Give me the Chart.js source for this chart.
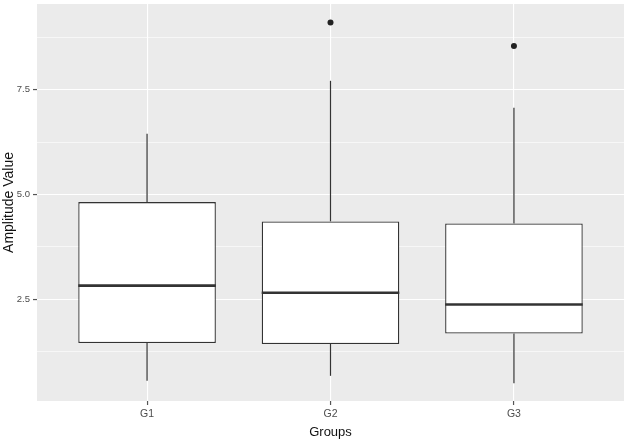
<!DOCTYPE html>
<html>
<head>
<meta charset="utf-8">
<script src="https://cdn.jsdelivr.net/npm/chart.js@4.4.1/dist/chart.umd.min.js"></script>
<style>
  html, body { margin: 0; padding: 0; background: #fff; }
  #wrap { width: 628px; height: 444px; }
</style>
</head>
<body>
<div id="wrap"><canvas id="chart"></canvas></div>
<script>
// Box plot values
const groups = ['G1', 'G2', 'G3'];
const lowerWhisker = [0.56, 0.68, 0.50];
const q1 = [1.46, 1.44, 1.69];
const median = [2.83, 2.66, 2.38];
const q3 = [4.82, 4.36, 4.31];
const upperWhisker = [6.45, 7.71, 7.07];
const outlierGroup = ['G2', 'G3'];
const outlierValue = [9.10, 8.54];

const yTicks = [1.25, 2.5, 3.75, 5.0, 6.25, 7.5, 8.75];
const yLabelled = [2.5, 5.0, 7.5];

const boxWidth = 0.75;
const lineColor = '#333333';

// grey panel behind the grid, like ggplot
const panelBg = {
    id: 'panelBg',
    beforeDraw(chart) {
        const { ctx, chartArea: a } = chart;
        ctx.save();
        ctx.fillStyle = '#EBEBEB';
        ctx.fillRect(a.left, a.top, a.right - a.left, a.bottom - a.top);
        ctx.restore();
    }
};

// one straight segment as a line dataset
function segment(x1, y1, x2, y2, width, order) {
    return {
        type: 'line',
        data: [{ x: x1, y: y1 }, { x: x2, y: y2 }],
        borderColor: lineColor,
        borderWidth: width,
        pointRadius: 0,
        fill: false,
        order: order
    };
}

const datasets = [];

// boxes
datasets.push({
    type: 'bar',
    data: groups.map((g, i) => ({ x: i + 1, y: [q1[i], q3[i]] })),
    backgroundColor: '#FFFFFF',
    borderColor: lineColor,
    borderWidth: 1.3,
    borderSkipped: false,
    categoryPercentage: 1,
    barPercentage: boxWidth,
    order: 1
});

groups.forEach((g, i) => {
    const x = i + 1;
    // whiskers
    datasets.push(segment(x, lowerWhisker[i], x, q1[i], 1.2, 2));
    datasets.push(segment(x, q3[i], x, upperWhisker[i], 1.2, 2));
    // median
    datasets.push(segment(x - boxWidth / 2, median[i], x + boxWidth / 2, median[i], 2.7, 0));
});

// outliers
datasets.push({
    type: 'scatter',
    data: outlierGroup.map((g, i) => ({ x: groups.indexOf(g) + 1, y: outlierValue[i] })),
    backgroundColor: '#222222',
    borderWidth: 0,
    pointRadius: 3,
    order: 0
});

const ctx = document.getElementById('chart').getContext('2d');
new Chart(ctx, {
    data: { datasets: datasets },
    plugins: [panelBg],
    options: {
        responsive: true,
        maintainAspectRatio: false,
        animation: false,
        layout: { padding: { top: 2, right: 3, left: 0, bottom: 0 } },
        plugins: {
            legend: { display: false },
            tooltip: { enabled: false }
        },
        scales: {
            x: {
                type: 'linear',
                min: 0.4,
                max: 3.6,
                offset: false,
                afterBuildTicks: (scale) => {
                    scale.ticks = groups.map((g, i) => ({ value: i + 1 }));
                },
                afterFit: (scale) => {
                    scale.height = 43;
                    scale.paddingLeft = 0;
                    scale.paddingRight = 0;
                },
                border: { display: false },
                grid: {
                    offset: false,
                    color: '#FFFFFF',
                    lineWidth: 1.1,
                    tickColor: () => '#555555',
                    tickWidth: () => 1.2,
                    tickLength: 4
                },
                ticks: {
                    padding: 3,
                    color: '#4D4D4D',
                    font: { family: '"Liberation Sans", Arial, sans-serif', size: 10.5 },
                    callback: (v) => groups[Math.round(v) - 1]
                },
                title: {
                    display: true,
                    text: 'Groups',
                    color: '#111111',
                    font: { family: '"Liberation Sans", Arial, sans-serif', size: 13 },
                    padding: { top: 0, bottom: 4 }
                }
            },
            y: {
                type: 'linear',
                min: 0.08,
                max: 9.54,
                afterBuildTicks: (scale) => {
                    scale.ticks = yTicks.map(v => ({ value: v }));
                },
                afterFit: (scale) => {
                    scale.width = 37;
                    scale.paddingTop = 0;
                    scale.paddingBottom = 0;
                },
                border: { display: false },
                grid: {
                    color: '#FFFFFF',
                    lineWidth: (c) => yLabelled.includes(c.tick.value) ? 1.1 : 0.6,
                    tickColor: (c) => yLabelled.includes(c.tick.value) ? '#555555' : 'rgba(0,0,0,0)',
                    tickWidth: 1.2,
                    tickLength: 4
                },
                ticks: {
                    padding: 3,
                    color: '#4D4D4D',
                    font: { family: '"Liberation Sans", Arial, sans-serif', size: 9.5 },
                    callback: (v) => yLabelled.includes(v) ? v.toFixed(1) : ''
                },
                title: {
                    display: true,
                    text: 'Amplitude Value',
                    color: '#111111',
                    font: { family: '"Liberation Sans", Arial, sans-serif', size: 14 },
                    padding: { top: 1, bottom: 0 }
                }
            }
        }
    }
});
</script>
</body>
</html>
